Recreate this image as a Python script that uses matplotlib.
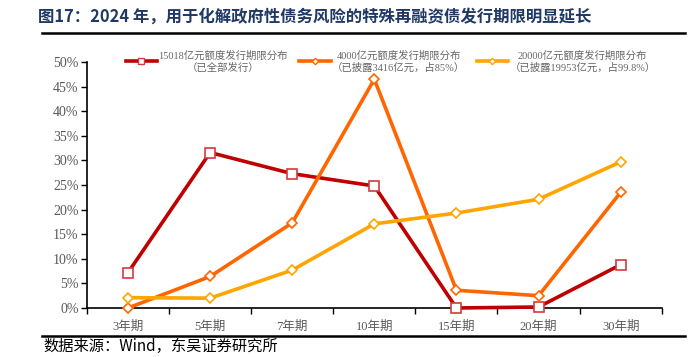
import matplotlib

matplotlib.use("Agg")
import matplotlib.pyplot as plt
from matplotlib.lines import Line2D

plt.rcParams["font.family"] = ["Liberation Serif", "Noto Sans CJK SC", "DejaVu Sans"]

# Data
terms = ["3年期", "5年期", "7年期", "10年期", "15年期", "20年期", "30年期"]
quota_15018 = [7.2, 31.6, 27.3, 24.8, 0.0, 0.2, 8.8]
quota_4000 = [0.0, 6.4, 17.3, 46.5, 3.6, 2.5, 23.5]
quota_20000 = [2.1, 2.0, 7.7, 17.1, 19.3, 22.1, 29.7]

labels = [
    "15018亿元额度发行期限分布\n（已全部发行）",
    "4000亿元额度发行期限分布\n（已披露3416亿元，占85%）",
    "20000亿元额度发行期限分布\n（已披露19953亿元，占99.8%）",
]

fig = plt.figure(figsize=(6.98, 3.57), dpi=100)
fig.patch.set_facecolor("white")
ax = fig.add_axes((0.1246, 0.1373, 0.8234, 0.689))

x = list(range(len(terms)))
series = [
    (quota_15018, "#C00000", "s", 7, "#D5393B"),
    (quota_4000, "#FF6600", "D", 5, "#FF6600"),
    (quota_20000, "#FFA500", "D", 5, "#FFA500"),
]
handles = []
for vals, color, marker, ms, edge in series:
    ax.plot(
        x, [v / 100 for v in vals], color=color, linewidth=2.6, marker=marker,
        markersize=ms, markerfacecolor="white", markeredgecolor=edge,
        markeredgewidth=1.2, zorder=3, clip_on=False,
    )
    handles.append(Line2D([0], [0], color=color, linewidth=2.6, marker=marker,
                          markersize=ms * 0.65, markerfacecolor="white",
                          markeredgecolor=edge, markeredgewidth=1.0))

ax.set_xlim(-0.5, len(terms) - 0.5)
ax.set_ylim(0, 0.5)
ax.set_yticks([i * 0.05 for i in range(11)])
ax.set_yticklabels([f"{i * 5}%" for i in range(11)])
ax.set_xticks([i - 0.5 for i in range(len(terms) + 1)])
ax.set_xticklabels([])
ax.set_xticks(x, minor=True)
ax.set_xticklabels(terms, minor=True)
ax.tick_params(axis="x", which="major", direction="out", length=4, width=1, color="black")
ax.tick_params(axis="x", which="minor", length=0, pad=9, labelsize=9, labelcolor="#595959")
ax.tick_params(axis="y", direction="out", length=4, width=1, labelsize=10,
               labelcolor="#595959", pad=2)

for side in ("top", "right"):
    ax.spines[side].set_visible(False)
for side in ("left", "bottom"):
    ax.spines[side].set_color("black")
    ax.spines[side].set_linewidth(1.2)

leg = ax.legend(
    handles, labels, ncol=3, loc="lower left", bbox_to_anchor=(0.06, 0.94),
    frameon=False, fontsize=7.5, handlelength=3.0, handletextpad=0.15,
    columnspacing=1.1, borderaxespad=0,
)
for t in leg.get_texts():
    t.set_color("#666666")
    t.set_multialignment("center")
for h in leg.get_lines():
    h.set_linewidth(2.6)

# Title and separators
fig.text(0.054, 0.953, "图17：2024 年，用于化解政府性债务风险的特殊再融资债发行期限明显延长",
         fontsize=11.8, fontweight="bold", color="#1F3864", va="center", ha="left",
         family=["Noto Sans CJK SC", "DejaVu Sans"])
fig.add_artist(Line2D([0.06, 0.982], [0.907, 0.907], color="black", linewidth=1.8))
fig.add_artist(Line2D([0.06, 0.982], [0.058, 0.058], color="black", linewidth=1.8))
fig.text(0.062, 0.03, "数据来源：Wind，东吴证券研究所", fontsize=11, color="black",
         va="center", ha="left", family=["Noto Sans CJK SC", "DejaVu Sans"])

fig.savefig("out.png", dpi=100)
plt.close(fig)
